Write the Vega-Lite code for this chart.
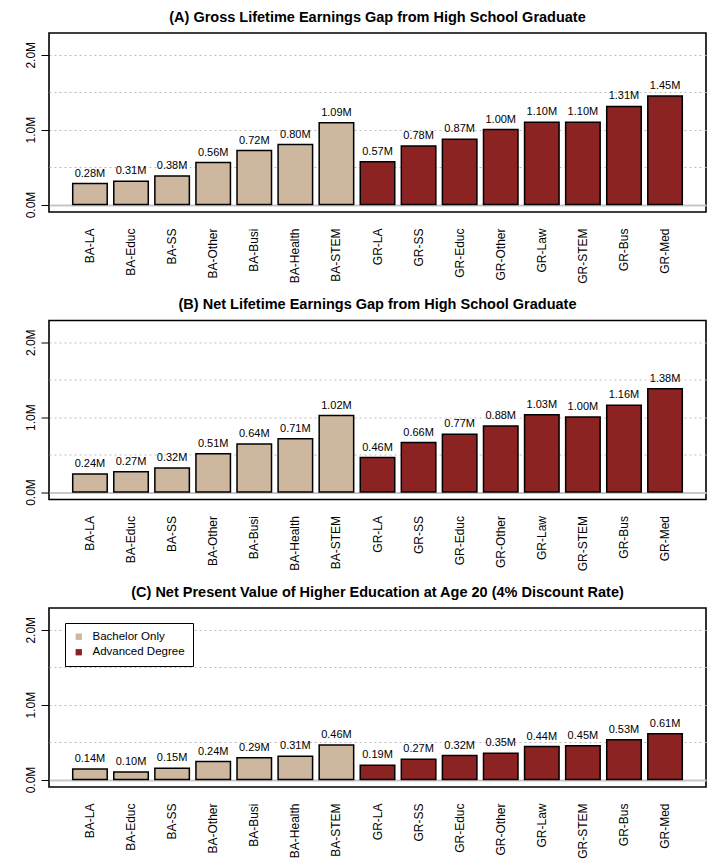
{
  "$schema": "https://vega.github.io/schema/vega-lite/v6.json",
  "background": "white",
  "padding": {"left": 23, "top": 8, "right": 0, "bottom": 0},
  "spacing": 10.5,
  "datasets": {
    "bars": [
      {"panel": "A", "cat": "BA-LA", "type": "Bachelor Only", "value": 0.28},
      {"panel": "A", "cat": "BA-Educ", "type": "Bachelor Only", "value": 0.31},
      {"panel": "A", "cat": "BA-SS", "type": "Bachelor Only", "value": 0.38},
      {"panel": "A", "cat": "BA-Other", "type": "Bachelor Only", "value": 0.56},
      {"panel": "A", "cat": "BA-Busi", "type": "Bachelor Only", "value": 0.72},
      {"panel": "A", "cat": "BA-Health", "type": "Bachelor Only", "value": 0.80},
      {"panel": "A", "cat": "BA-STEM", "type": "Bachelor Only", "value": 1.09},
      {"panel": "A", "cat": "GR-LA", "type": "Advanced Degree", "value": 0.57},
      {"panel": "A", "cat": "GR-SS", "type": "Advanced Degree", "value": 0.78},
      {"panel": "A", "cat": "GR-Educ", "type": "Advanced Degree", "value": 0.87},
      {"panel": "A", "cat": "GR-Other", "type": "Advanced Degree", "value": 1.00},
      {"panel": "A", "cat": "GR-Law", "type": "Advanced Degree", "value": 1.10},
      {"panel": "A", "cat": "GR-STEM", "type": "Advanced Degree", "value": 1.10},
      {"panel": "A", "cat": "GR-Bus", "type": "Advanced Degree", "value": 1.31},
      {"panel": "A", "cat": "GR-Med", "type": "Advanced Degree", "value": 1.45},
      {"panel": "B", "cat": "BA-LA", "type": "Bachelor Only", "value": 0.24},
      {"panel": "B", "cat": "BA-Educ", "type": "Bachelor Only", "value": 0.27},
      {"panel": "B", "cat": "BA-SS", "type": "Bachelor Only", "value": 0.32},
      {"panel": "B", "cat": "BA-Other", "type": "Bachelor Only", "value": 0.51},
      {"panel": "B", "cat": "BA-Busi", "type": "Bachelor Only", "value": 0.64},
      {"panel": "B", "cat": "BA-Health", "type": "Bachelor Only", "value": 0.71},
      {"panel": "B", "cat": "BA-STEM", "type": "Bachelor Only", "value": 1.02},
      {"panel": "B", "cat": "GR-LA", "type": "Advanced Degree", "value": 0.46},
      {"panel": "B", "cat": "GR-SS", "type": "Advanced Degree", "value": 0.66},
      {"panel": "B", "cat": "GR-Educ", "type": "Advanced Degree", "value": 0.77},
      {"panel": "B", "cat": "GR-Other", "type": "Advanced Degree", "value": 0.88},
      {"panel": "B", "cat": "GR-Law", "type": "Advanced Degree", "value": 1.03},
      {"panel": "B", "cat": "GR-STEM", "type": "Advanced Degree", "value": 1.00},
      {"panel": "B", "cat": "GR-Bus", "type": "Advanced Degree", "value": 1.16},
      {"panel": "B", "cat": "GR-Med", "type": "Advanced Degree", "value": 1.38},
      {"panel": "C", "cat": "BA-LA", "type": "Bachelor Only", "value": 0.14},
      {"panel": "C", "cat": "BA-Educ", "type": "Bachelor Only", "value": 0.10},
      {"panel": "C", "cat": "BA-SS", "type": "Bachelor Only", "value": 0.15},
      {"panel": "C", "cat": "BA-Other", "type": "Bachelor Only", "value": 0.24},
      {"panel": "C", "cat": "BA-Busi", "type": "Bachelor Only", "value": 0.29},
      {"panel": "C", "cat": "BA-Health", "type": "Bachelor Only", "value": 0.31},
      {"panel": "C", "cat": "BA-STEM", "type": "Bachelor Only", "value": 0.46},
      {"panel": "C", "cat": "GR-LA", "type": "Advanced Degree", "value": 0.19},
      {"panel": "C", "cat": "GR-SS", "type": "Advanced Degree", "value": 0.27},
      {"panel": "C", "cat": "GR-Educ", "type": "Advanced Degree", "value": 0.32},
      {"panel": "C", "cat": "GR-Other", "type": "Advanced Degree", "value": 0.35},
      {"panel": "C", "cat": "GR-Law", "type": "Advanced Degree", "value": 0.44},
      {"panel": "C", "cat": "GR-STEM", "type": "Advanced Degree", "value": 0.45},
      {"panel": "C", "cat": "GR-Bus", "type": "Advanced Degree", "value": 0.53},
      {"panel": "C", "cat": "GR-Med", "type": "Advanced Degree", "value": 0.61}
    ]
  },
  "config": {
    "font": "Liberation Sans",
    "view": {"stroke": "#000", "strokeWidth": 1.6},
    "title": {"fontSize": 14.5, "fontWeight": "bold", "color": "#000", "offset": 8, "anchor": "middle"},
    "axisX": {
      "title": null, "labelAngle": 270, "labelAlign": "right", "labelBaseline": "middle",
      "ticks": false, "domain": false, "labelPadding": 16, "labelFontSize": 12, "labelColor": "#000", "grid": false
    },
    "axisY": {
      "title": null, "values": [0, 0.5, 1, 1.5, 2],
      "labelExpr": "datum.value % 1 == 0 ? format(datum.value, '.1f') + 'M' : ''",
      "domain": false, "ticks": true, "tickSize": 8, "tickColor": "#000", "tickWidth": 1,
      "labelAngle": 270, "labelAlign": "center", "labelBaseline": "bottom", "labelPadding": 4,
      "labelFontSize": 12, "labelColor": "#000", "grid": true, "zindex": 1
    }
  },
  "resolve": {"scale": {"color": "independent"}},
  "vconcat": [
    {
      "title": "(A) Gross Lifetime Earnings Gap from High School Graduate",
      "width": 657, "height": 179,
      "data": {"name": "bars"},
      "transform": [{"filter": "datum.panel == 'A'"}],
      "encoding": {
        "x": {"field": "cat", "type": "nominal", "sort": null, "scale": {"paddingInner": 0.16, "paddingOuter": 0.577}},
        "y": {"field": "value", "type": "quantitative", "scale": {"domain": [-0.1, 2.29], "nice": false, "zero": false},
          "axis": {
            "tickOpacity": {"condition": {"test": "datum.value % 1 != 0", "value": 0}, "value": 1},
            "gridColor": {"condition": {"test": "datum.value == 0", "value": "#c8c8c8"}, "value": "#bdbdbd"},
            "gridDash": {"condition": {"test": "datum.value == 0", "value": []}, "value": [2, 3]},
            "gridWidth": {"condition": {"test": "datum.value == 0", "value": 2}, "value": 1}
          }}
      },
      "layer": [
        {"mark": {"type": "bar", "stroke": "#000", "strokeWidth": 1.5},
         "encoding": {"color": {"field": "type", "type": "nominal", "scale": {"domain": ["Bachelor Only", "Advanced Degree"], "range": ["#CDB79E", "#8B2323"]}, "legend": null}}},
        {"mark": {"type": "text", "baseline": "bottom", "dy": -5, "fontSize": 11, "color": "#000", "text": {"expr": "format(datum.value, '.2f') + 'M'"}}}
      ]
    },
    {
      "title": "(B) Net Lifetime Earnings Gap from High School Graduate",
      "width": 657, "height": 179,
      "data": {"name": "bars"},
      "transform": [{"filter": "datum.panel == 'B'"}],
      "encoding": {
        "x": {"field": "cat", "type": "nominal", "sort": null, "scale": {"paddingInner": 0.16, "paddingOuter": 0.577}},
        "y": {"field": "value", "type": "quantitative", "scale": {"domain": [-0.1, 2.29], "nice": false, "zero": false},
          "axis": {
            "tickOpacity": {"condition": {"test": "datum.value % 1 != 0", "value": 0}, "value": 1},
            "gridColor": {"condition": {"test": "datum.value == 0", "value": "#c8c8c8"}, "value": "#bdbdbd"},
            "gridDash": {"condition": {"test": "datum.value == 0", "value": []}, "value": [2, 3]},
            "gridWidth": {"condition": {"test": "datum.value == 0", "value": 2}, "value": 1}
          }}
      },
      "layer": [
        {"mark": {"type": "bar", "stroke": "#000", "strokeWidth": 1.5},
         "encoding": {"color": {"field": "type", "type": "nominal", "scale": {"domain": ["Bachelor Only", "Advanced Degree"], "range": ["#CDB79E", "#8B2323"]}, "legend": null}}},
        {"mark": {"type": "text", "baseline": "bottom", "dy": -5, "fontSize": 11, "color": "#000", "text": {"expr": "format(datum.value, '.2f') + 'M'"}}}
      ]
    },
    {
      "title": "(C) Net Present Value of Higher Education at Age 20 (4% Discount Rate)",
      "width": 657, "height": 179,
      "data": {"name": "bars"},
      "transform": [{"filter": "datum.panel == 'C'"}],
      "encoding": {
        "x": {"field": "cat", "type": "nominal", "sort": null, "scale": {"paddingInner": 0.16, "paddingOuter": 0.577}},
        "y": {"field": "value", "type": "quantitative", "scale": {"domain": [-0.1, 2.29], "nice": false, "zero": false},
          "axis": {
            "tickOpacity": {"condition": {"test": "datum.value % 1 != 0", "value": 0}, "value": 1},
            "gridColor": {"condition": {"test": "datum.value == 0", "value": "#c8c8c8"}, "value": "#bdbdbd"},
            "gridDash": {"condition": {"test": "datum.value == 0", "value": []}, "value": [2, 3]},
            "gridWidth": {"condition": {"test": "datum.value == 0", "value": 2}, "value": 1}
          }}
      },
      "layer": [
        {"mark": {"type": "bar", "stroke": "#000", "strokeWidth": 1.5},
         "encoding": {"color": {"field": "type", "type": "nominal", "scale": {"domain": ["Bachelor Only", "Advanced Degree"], "range": ["#CDB79E", "#8B2323"]},
           "legend": {"orient": "none", "legendX": 16, "legendY": 15, "title": null, "strokeColor": "#000", "fillColor": "#fff", "padding": 8,
             "symbolType": "square", "symbolSize": 40, "symbolStrokeWidth": 0, "labelFontSize": 11.5, "labelColor": "#000", "rowPadding": 2.5, "labelOffset": 8}}}},
        {"mark": {"type": "text", "baseline": "bottom", "dy": -5, "fontSize": 11, "color": "#000", "text": {"expr": "format(datum.value, '.2f') + 'M'"}}}
      ]
    }
  ]
}
